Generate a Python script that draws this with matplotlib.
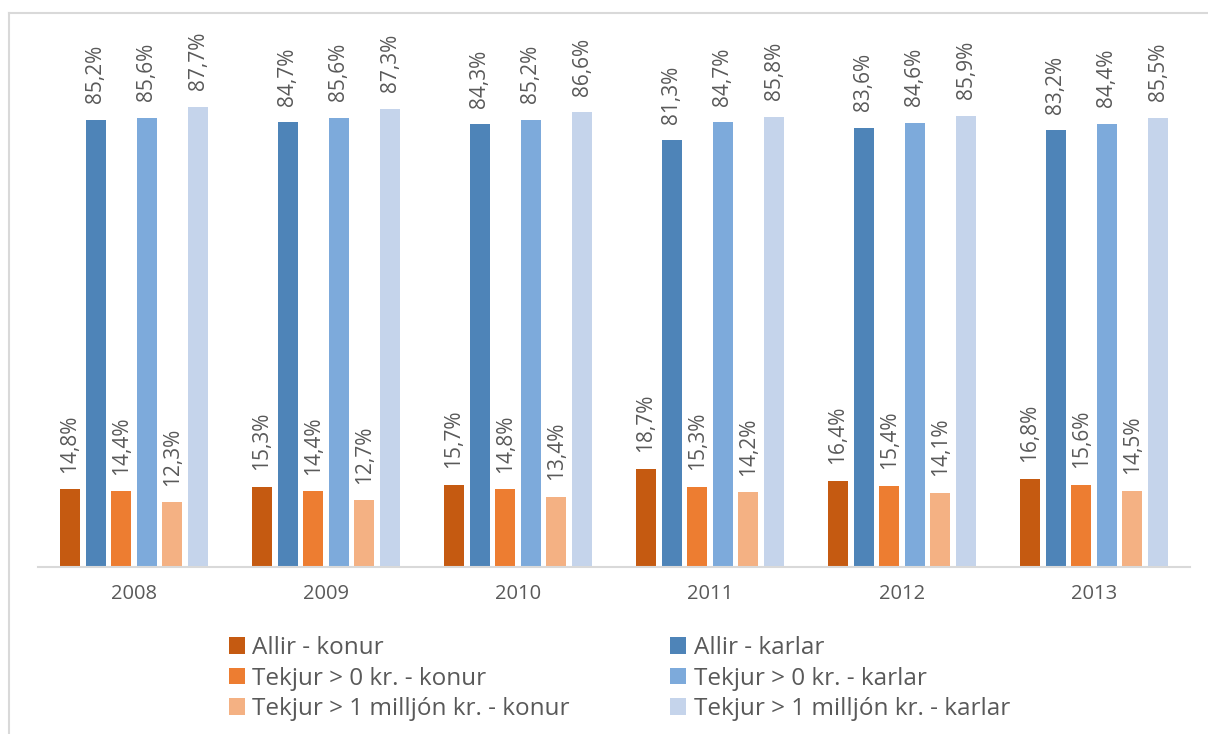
import numpy as np
import matplotlib.pyplot as plt
from matplotlib.lines import Line2D

years = ['2008', '2009', '2010', '2011', '2012', '2013']
series_names = ['Allir - konur', 'Allir - karlar',
                'Tekjur > 0 kr. - konur', 'Tekjur > 0 kr. - karlar',
                'Tekjur > 1 milljón kr. - konur', 'Tekjur > 1 milljón kr. - karlar']
allir_konur = [14.8, 15.3, 15.7, 18.7, 16.4, 16.8]
allir_karlar = [85.2, 84.7, 84.3, 81.3, 83.6, 83.2]
tekjur0_konur = [14.4, 14.4, 14.8, 15.3, 15.4, 15.6]
tekjur0_karlar = [85.6, 85.6, 85.2, 84.7, 84.6, 84.4]
tekjur1m_konur = [12.3, 12.7, 13.4, 14.2, 14.1, 14.5]
tekjur1m_karlar = [87.7, 87.3, 86.6, 85.8, 85.9, 85.5]

series = [allir_konur, allir_karlar, tekjur0_konur, tekjur0_karlar,
          tekjur1m_konur, tekjur1m_karlar]
colors = ['#C55A11', '#4E84B8', '#ED7D31', '#7DAADB', '#F4B183', '#C5D4EB']

plt.rcParams['font.family'] = ['Open Sans', 'DejaVu Sans']
text_col = '#595959'

fig = plt.figure(figsize=(12.08, 7.34), dpi=100)
ax = fig.add_axes([38 / 1208, 1 - 567 / 734, 1152 / 1208, 525 / 734])

x = np.arange(len(years))
pitch = 0.1335
width = 0.104
handles = []
for i, (vals, c, name) in enumerate(zip(series, colors, series_names)):
    pos = x + (i - 2.5) * pitch
    bars = ax.bar(pos, vals, width=width, color=c, label=name, zorder=2)
    handles.append(bars)
    for b, v in zip(bars, vals):
        ax.annotate(f'{v:.1f}%'.replace('.', ','),
                    (b.get_x() + b.get_width() / 2, b.get_height()),
                    xytext=(0, 12), textcoords='offset points',
                    rotation=90, ha='center', va='bottom',
                    fontsize=15, color=text_col)

ax.set_xlim(-0.5, len(years) - 0.5)
ax.set_ylim(0, 100)
ax.set_xticks(x)
ax.set_xticklabels(years, fontsize=14.5, color=text_col)
ax.tick_params(axis='x', length=0, pad=12)
ax.set_yticks([])
for s in ['top', 'right', 'left']:
    ax.spines[s].set_visible(False)
ax.spines['bottom'].set_color('#D9D9D9')
ax.spines['bottom'].set_linewidth(1.5)

order = [0, 2, 4, 1, 3, 5]
leg = fig.legend([handles[k] for k in order], [series_names[k] for k in order],
                 ncol=2, loc='upper left', bbox_to_anchor=(229 / 1208, 1 - 636 / 734),
                 frameon=False, fontsize=17.5, handlelength=0.66, handleheight=0.66,
                 handletextpad=0.29, columnspacing=4.15, borderpad=0, borderaxespad=0,
                 labelspacing=0.27)
for t in leg.get_texts():
    t.set_color(text_col)

# outer chart frame
fig.add_artist(Line2D([9 / 1208, 9 / 1208], [0, 1 - 13 / 734],
                      transform=fig.transFigure, color='#D9D9D9', lw=1.5))
fig.add_artist(Line2D([9 / 1208, 1], [1 - 13 / 734, 1 - 13 / 734],
                      transform=fig.transFigure, color='#D9D9D9', lw=1.5))

fig.savefig('out.png', dpi=100)
